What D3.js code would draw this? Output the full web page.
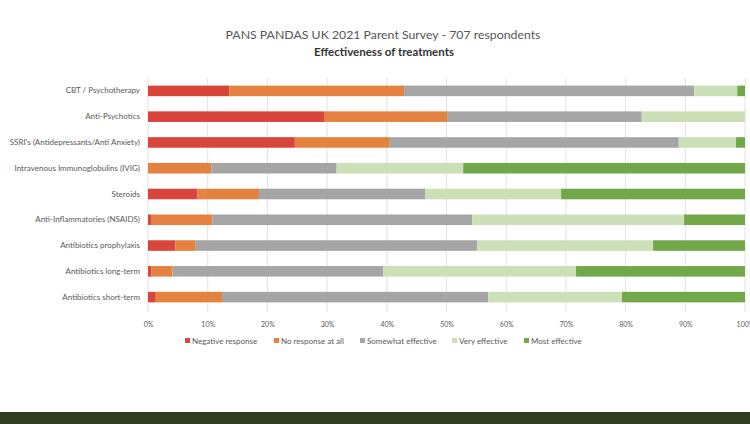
<!DOCTYPE html>
<html>
<head>
<meta charset="utf-8">
<script src="https://cdn.jsdelivr.net/npm/d3@7/dist/d3.min.js"></script>
<style>
  html, body { margin: 0; padding: 0; background: #ffffff; }
  svg { display: block; }
</style>
</head>
<body>
<svg id="chart" width="750" height="424"></svg>
<script>
const categories = [
  "CBT / Psychotherapy",
  "Anti-Psychotics",
  "SSRI's (Antidepressants/Anti Anxiety)",
  "Intravenous Immunoglobulins (IVIG)",
  "Steroids",
  "Anti-Inflammatories (NSAIDS)",
  "Antibiotics prophylaxis",
  "Antibiotics long-term",
  "Antibiotics short-term"
];
const seriesNames = ["Negative response", "No response at all", "Somewhat effective", "Very effective", "Most effective"];
const negativeResponse = [13.6, 29.6, 24.6, 0, 8.3, 0.5, 4.6, 0.6, 1.3];
const noResponse       = [29.3, 20.5, 15.9, 10.6, 10.3, 10.3, 3.4, 3.5, 11.1];
const somewhatEffective= [48.6, 32.6, 48.4, 21.0, 27.8, 43.5, 47.1, 35.3, 44.6];
const veryEffective    = [7.2, 17.3, 9.6, 21.2, 22.8, 35.5, 29.5, 32.3, 22.4];
const mostEffective    = [1.3, 0, 1.5, 47.2, 30.8, 10.2, 15.4, 28.3, 20.6];
const tickValues = [0, 10, 20, 30, 40, 50, 60, 70, 80, 90, 100];
const colors = ["#d9453b", "#e4823f", "#a5a5a5", "#cbe0b6", "#72a84a"];

const seriesValues = [negativeResponse, noResponse, somewhatEffective, veryEffective, mostEffective];
const rows = categories.map((c, i) => {
  const o = { cat: c };
  seriesNames.forEach((s, j) => o[s] = seriesValues[j][i]);
  return o;
});

const svg = d3.select("#chart");
const x = d3.scaleLinear().domain([0, 100]).range([148, 745]);
const y = d3.scaleBand().domain(categories).range([78, 310]).paddingInner(0.59).paddingOuter(0.295);
const color = d3.scaleOrdinal().domain(seriesNames).range(colors);
const font = "Lato, 'Open Sans', sans-serif";

// title
svg.append("text").attr("x", 383).attr("y", 39).attr("text-anchor", "middle")
  .attr("font-family", font).attr("font-size", 12.3).attr("fill", "#555")
  .text("PANS PANDAS UK 2021 Parent Survey - 707 respondents");
svg.append("text").attr("x", 384).attr("y", 56).attr("text-anchor", "middle")
  .attr("font-family", font).attr("font-weight", "bold").attr("font-size", 11.5).attr("fill", "#333")
  .text("Effectiveness of treatments");

// gridlines
svg.append("g").selectAll("line").data(tickValues).join("line")
  .attr("x1", d => x(d)).attr("x2", d => x(d))
  .attr("y1", 78).attr("y2", 312)
  .attr("stroke", "#e2e2e2").attr("stroke-width", 1);

// bars
const stacked = d3.stack().keys(seriesNames)(rows);
svg.append("g").selectAll("g").data(stacked).join("g")
  .attr("fill", d => color(d.key))
  .selectAll("rect").data(d => d).join("rect")
  .attr("x", d => x(d[0]))
  .attr("width", d => Math.max(0, x(d[1]) - x(d[0])))
  .attr("y", d => y(d.data.cat))
  .attr("height", y.bandwidth());

// y axis labels
const yAxis = d3.axisLeft(y).tickSize(0).tickPadding(8);
const yg = svg.append("g").attr("transform", "translate(148,0)").call(yAxis);
yg.select(".domain").remove();
yg.selectAll("text").attr("font-family", font).attr("font-size", 8).attr("fill", "#595959");

// x axis
const xAxis = d3.axisBottom(x).tickValues(tickValues).tickFormat(d => d + "%").tickSize(0).tickPadding(6);
const xg = svg.append("g").attr("transform", "translate(0,316)").call(xAxis);
xg.select(".domain").remove();
xg.selectAll("text").attr("font-family", font).attr("font-size", 7).attr("fill", "#595959");

// legend
const legendX = [187, 276, 362, 454, 526];
const lg = svg.append("g").selectAll("g").data(seriesNames).join("g")
  .attr("transform", (d, i) => `translate(${legendX[i]},341)`);
lg.append("rect").attr("x", -2).attr("y", -3).attr("width", 5).attr("height", 5).attr("fill", d => color(d));
lg.append("text").attr("x", 5).attr("y", 2.5)
  .attr("font-family", font).attr("font-size", 8).attr("fill", "#595959")
  .text(d => d);

// bottom dark band
svg.append("rect").attr("x", 0).attr("y", 412).attr("width", 750).attr("height", 12).attr("fill", "#303d22");
</script>
</body>
</html>
